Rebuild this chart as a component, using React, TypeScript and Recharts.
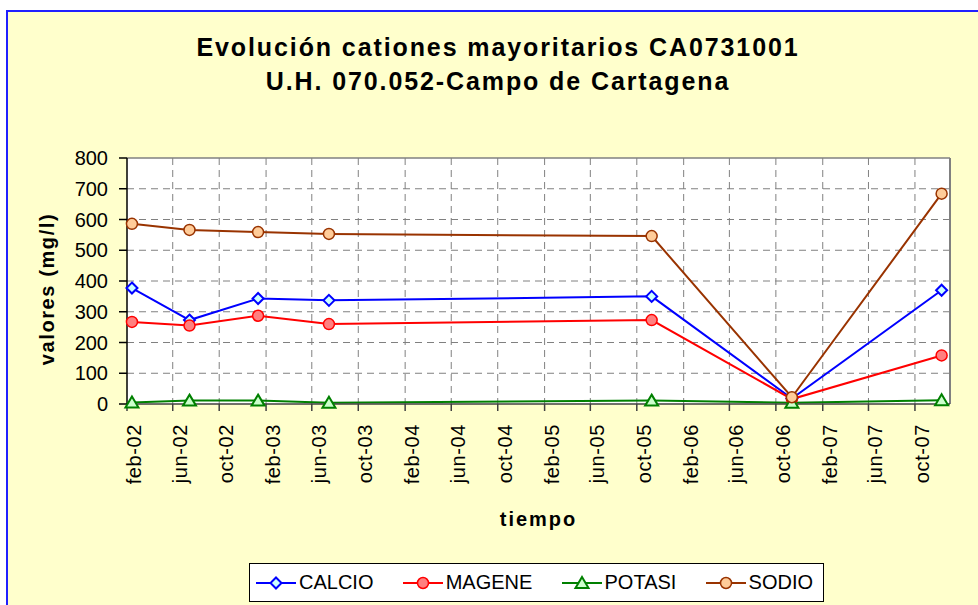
import React from 'react';
import {
  LineChart,
  Line,
  XAxis,
  YAxis,
  CartesianGrid,
  ReferenceLine,
  Legend,
} from 'recharts';

// Fechas de muestreo y valores (mg/l)
const sampleDates = ['2002-02-14', '2002-07-15', '2003-01-11', '2003-07-16', '2005-11-09', '2006-11-12', '2007-12-10'];
const calcio = [377, 273, 343, 337, 350, 18, 370];
const magene = [267, 255, 287, 260, 273, 16, 158];
const potasi = [5, 11, 11, 4, 11, 4, 12];
const sodio = [586, 566, 559, 553, 546, 22, 684];

const tickDates = [
  '2002-02-01', '2002-06-01', '2002-10-01', '2003-02-01', '2003-06-01', '2003-10-01',
  '2004-02-01', '2004-06-01', '2004-10-01', '2005-02-01', '2005-06-01', '2005-10-01',
  '2006-02-01', '2006-06-01', '2006-10-01', '2007-02-01', '2007-06-01', '2007-10-01',
];
const tickLabels = [
  'feb-02', 'jun-02', 'oct-02', 'feb-03', 'jun-03', 'oct-03',
  'feb-04', 'jun-04', 'oct-04', 'feb-05', 'jun-05', 'oct-05',
  'feb-06', 'jun-06', 'oct-06', 'feb-07', 'jun-07', 'oct-07',
];
const yTicks = [0, 100, 200, 300, 400, 500, 600, 700, 800];
const axisStart = '2002-02-01';
const axisEnd = '2008-01-01';

const FONT = '"Liberation Sans", Arial, sans-serif';

const toDay = (s: string) => {
  const [y, m, d] = s.split('-').map(Number);
  return Date.UTC(y, m - 1, d) / 86400000;
};

const data = sampleDates.map((d, i) => ({
  t: toDay(d),
  CALCIO: calcio[i],
  MAGENE: magene[i],
  POTASI: potasi[i],
  SODIO: sodio[i],
}));

const xTicks = tickDates.map(toDay);
const labelByDay: Record<number, string> = {};
xTicks.forEach((t, i) => (labelByDay[t] = tickLabels[i]));

const series = [
  { key: 'CALCIO', stroke: '#0000ff', fill: '#ccffff', shape: 'diamond' },
  { key: 'MAGENE', stroke: '#ff0000', fill: '#ff8080', shape: 'circle' },
  { key: 'POTASI', stroke: '#008000', fill: '#ccffcc', shape: 'triangle' },
  { key: 'SODIO', stroke: '#993300', fill: '#ffcc99', shape: 'circle' },
];

function Marker({ cx, cy, shape, stroke, fill }: any) {
  if (cx == null || cy == null) return null;
  if (shape === 'diamond') {
    const s = 5.5;
    return (
      <polygon
        points={`${cx},${cy - s} ${cx + s},${cy} ${cx},${cy + s} ${cx - s},${cy}`}
        fill={fill}
        stroke={stroke}
        strokeWidth={2}
      />
    );
  }
  if (shape === 'triangle') {
    return (
      <polygon
        points={`${cx},${cy - 6} ${cx + 6.5},${cy + 5} ${cx - 6.5},${cy + 5}`}
        fill={fill}
        stroke={stroke}
        strokeWidth={2}
      />
    );
  }
  return <circle cx={cx} cy={cy} r={5.5} fill={fill} stroke={stroke} strokeWidth={1.5} />;
}

function XTick({ x, y, payload }: any) {
  const tx = x + 14;
  const ty = y + 11;
  return (
    <text
      x={tx}
      y={ty}
      transform={`rotate(-90, ${tx}, ${ty})`}
      textAnchor="end"
      fontSize={20}
      fontFamily={FONT}
      letterSpacing={0.6}
      fill="#000"
    >
      {labelByDay[payload.value]}
    </text>
  );
}

function LegendBox() {
  return (
    <div
      style={{
        boxSizing: 'border-box',
        width: 575,
        height: 39,
        border: '1px solid #000',
        background: '#fff',
        display: 'flex',
        alignItems: 'center',
        justifyContent: 'space-between',
        padding: '0 10px 0 6px',
        fontFamily: FONT,
        fontSize: 20,
        color: '#000',
      }}
    >
      {series.map((s) => (
        <div key={s.key} style={{ display: 'flex', alignItems: 'center' }}>
          <svg width={40} height={20}>
            <line x1={0} y1={10} x2={40} y2={10} stroke={s.stroke} strokeWidth={2} />
            <Marker cx={20} cy={10} shape={s.shape} stroke={s.stroke} fill={s.fill} />
          </svg>
          <span style={{ marginLeft: 3 }}>{s.key}</span>
        </div>
      ))}
    </div>
  );
}

export default function App() {
  return (
    <div
      style={{
        position: 'absolute',
        left: 6,
        top: 10,
        width: 1000,
        height: 620,
        boxSizing: 'border-box',
        borderTop: '2px solid #2020ff',
        borderLeft: '2px solid #2020ff',
        background: '#ffffcc',
        overflow: 'hidden',
      }}
    >
      <div
        style={{
          position: 'absolute',
          left: 0,
          top: 18,
          width: 980,
          textAlign: 'center',
          fontFamily: FONT,
          fontWeight: 'bold',
          fontSize: 25,
          lineHeight: '34px',
          letterSpacing: 1.9,
          color: '#000',
        }}
      >
        <div>Evolución cationes mayoritarios CA0731001</div>
        <div>U.H. 070.052-Campo de Cartagena</div>
      </div>
      <div style={{ position: 'absolute', left: 0, top: 0 }}>
        <LineChart
          width={990}
          height={600}
          data={data}
          margin={{ top: 146, right: 48, left: 0, bottom: 0 }}
          style={{ fontFamily: FONT }}
        >
          <CartesianGrid
            stroke="#808080"
            strokeDasharray="7 5"
            fill="#ffffff"
            horizontalValues={yTicks.slice(1, -1)}
            verticalValues={xTicks.slice(1)}
          />
          <XAxis
            dataKey="t"
            type="number"
            domain={[toDay(axisStart), toDay(axisEnd)]}
            ticks={xTicks}
            interval={0}
            height={208}
            tick={<XTick />}
            tickSize={7}
            stroke="#404040"
            strokeWidth={1.5}
            label={{
              value: 'tiempo',
              content: ({ viewBox }: any) => (
                <text
                  x={viewBox.x + viewBox.width / 2}
                  y={514}
                  textAnchor="middle"
                  fontSize={20}
                  fontWeight="bold"
                  letterSpacing={2}
                  fontFamily={FONT}
                  fill="#000"
                >
                  tiempo
                </text>
              ),
            }}
          />
          <YAxis
            type="number"
            domain={[0, 800]}
            ticks={yTicks}
            interval={0}
            width={119}
            tickSize={8}
            tickMargin={11}
            stroke="#000"
            strokeWidth={1.5}
            tick={{ fill: '#000', fontSize: 20, fontFamily: FONT }}
            label={{
              value: 'valores (mg/l)',
              content: ({ viewBox }: any) => {
                const cx = 39;
                const cy = viewBox.y + viewBox.height / 2 + 8;
                return (
                  <text
                    x={cx}
                    y={cy}
                    transform={`rotate(-90, ${cx}, ${cy})`}
                    textAnchor="middle"
                    dominantBaseline="central"
                    fontSize={20}
                    fontWeight="bold"
                    letterSpacing={1.6}
                    fontFamily={FONT}
                    fill="#000"
                  >
                    valores (mg/l)
                  </text>
                );
              },
            }}
          />
          <ReferenceLine y={800} stroke="#808080" strokeWidth={1.5} />
          <ReferenceLine x={toDay(axisEnd)} stroke="#808080" strokeWidth={2} />
          {series.map((s) => (
            <Line
              key={s.key}
              type="linear"
              dataKey={s.key}
              stroke={s.stroke}
              strokeWidth={2}
              isAnimationActive={false}
              dot={(p: any) => (
                <Marker key={`${s.key}-${p.index}`} cx={p.cx} cy={p.cy} shape={s.shape} stroke={s.stroke} fill={s.fill} />
              )}
              activeDot={false}
            />
          ))}
          <Legend
            layout="horizontal"
            verticalAlign="middle"
            align="center"
            content={() => <LegendBox />}
            wrapperStyle={{ position: 'absolute', left: 241, top: 551, width: 575, height: 39 }}
          />
        </LineChart>
      </div>
    </div>
  );
}
